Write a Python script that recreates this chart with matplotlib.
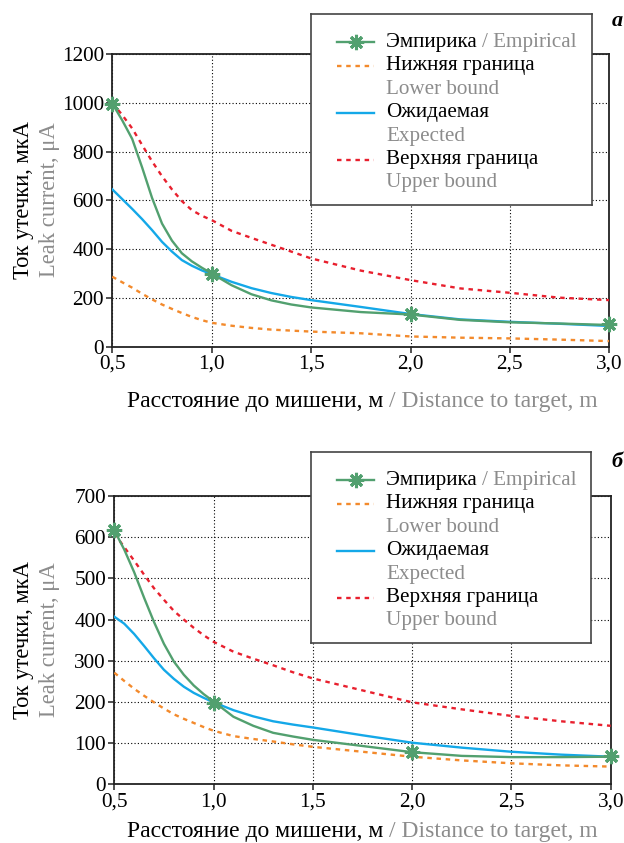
import matplotlib
matplotlib.use("Agg")
import matplotlib.pyplot as plt
from matplotlib.ticker import FuncFormatter, MultipleLocator

plt.rcParams['font.family'] = ['Liberation Serif', 'DejaVu Serif']
FS_TICK = 15.3
FS_LEG = 15.2
FS_XLAB = 17
FS_YLAB = 16.3

# common distance samples (m)
xs = [0.5, 0.55, 0.6, 0.65, 0.7, 0.75, 0.8, 0.85, 0.9, 0.95, 1.0,
      1.1, 1.2, 1.3, 1.4, 1.5, 1.75, 2.0, 2.25, 2.5, 2.75, 3.0]

# ---------------- data: panel а ----------------
a_emp_x = [0.5, 1.0, 2.0, 3.0]
a_emp_y = [995, 300, 134, 92]
a_emp = [997, 928, 852, 735, 610, 505, 435, 383, 350, 324, 300,
         252, 215, 190, 173, 161, 142, 132, 110, 100, 95, 89]
a_exp = [645, 605, 565, 523, 478, 430, 390, 355, 332, 313, 297,
         266, 240, 220, 204, 191, 163, 134, 112, 102, 94, 85]
a_up = [1000, 950, 895, 827, 760, 699, 645, 597, 560, 537, 519,
        475, 446, 418, 390, 362, 312, 273, 239, 221, 201, 191]
a_low = [287, 264, 242, 217, 194, 173, 155, 138, 122, 109, 98,
         86, 77, 70, 66, 62, 55, 42, 37, 34, 29, 23]

# ---------------- data: panel б ----------------
b_emp_x = [0.5, 1.0, 2.0, 3.0]
b_emp_y = [617, 198, 78, 69]
b_emp = [617, 570, 515, 453, 394, 341, 298, 266, 240, 219, 201,
         164, 142, 125, 116, 108, 93, 78, 69, 66, 66, 67]
b_exp = [407, 390, 365, 336, 306, 278, 256, 237, 222, 210, 199,
         180, 165, 153, 145, 138, 119, 101, 89, 79, 72, 67]
b_up = [609, 576, 543, 509, 476, 448, 421, 400, 380, 362, 346,
        322, 305, 289, 272, 257, 228, 199, 182, 166, 153, 142]
b_low = [271, 251, 232, 215, 199, 184, 170, 159, 149, 139, 130,
         117, 110, 104, 97, 91, 79, 67, 58, 51, 46, 43]

x_ticks = [0.5, 1.0, 1.5, 2.0, 2.5, 3.0]

names_ru = ["Эмпирика", "Нижняя граница", "Ожидаемая", "Верхняя граница"]
names_en = ["Empirical", "Lower bound", "Expected", "Upper bound"]

GREEN = "#52a06f"
ORANGE = "#f38a2c"
BLUE = "#14a8e8"
RED = "#e8202e"
GRAY = "#8c8c8c"
DASH = (0, (1.9, 2.0))
LW = 1.7

W, H = 624, 843
fig = plt.figure(figsize=(W / 100, H / 100), dpi=100)


def px_rect(x0, y0, x1, y1):
    return [x0 / W, 1 - y1 / H, (x1 - x0) / W, (y1 - y0) / H]


def comma(v, pos):
    return f"{v:.1f}".replace(".", ",")


def panel(rect, ymax, ystep, emp, emp_x, emp_y, exp, up, low):
    ax = fig.add_axes(px_rect(*rect))
    ax.plot(xs, up, color=RED, lw=LW, ls=DASH, zorder=3)
    ax.plot(xs, low, color=ORANGE, lw=LW, ls=DASH, zorder=3)
    ax.plot(xs, exp, color=BLUE, lw=LW, zorder=4)
    ax.plot(xs, emp, color=GREEN, lw=LW, zorder=5)
    ax.plot(emp_x, emp_y, ls="none", marker=(8, 2, 0), ms=11, mew=2.2,
            color=GREEN, zorder=6, clip_on=False)
    ax.set_xlim(0.5, 3.0)
    ax.set_ylim(0, ymax)
    ax.set_xticks(x_ticks)
    ax.xaxis.set_major_formatter(FuncFormatter(comma))
    ax.yaxis.set_major_locator(MultipleLocator(ystep))
    ax.grid(True, color="black", ls=(0, (1, 2)), lw=0.8, zorder=1)
    ax.tick_params(direction="out", length=4, width=1.1, labelsize=FS_TICK, pad=2,
                   color="#222222")
    for s in ax.spines.values():
        s.set_linewidth(1.3)
        s.set_color("#222222")
    t1 = fig.text(0, 0, "Расстояние до мишени, м ", fontsize=FS_XLAB, color="black", va="center")
    t2 = fig.text(0, 0, "/ Distance to target, m", fontsize=FS_XLAB, color=GRAY, va="center")
    return ax, t1, t2


def legend(rect):
    x0, y0, x1, y1 = rect
    lg = fig.add_axes(px_rect(*rect), zorder=10)
    lg.set_xlim(x0, x1)
    lg.set_ylim(y1, y0)
    lg.set_xticks([])
    lg.set_yticks([])
    lg.set_facecolor("white")
    for s in lg.spines.values():
        s.set_linewidth(1.2)
        s.set_color("#444444")
    hx0, hx1, tx = x0 + 26, x0 + 63, x0 + 75
    rows = [y0 + 28, y0 + 51.5, y0 + 75, y0 + 98.5, y0 + 122, y0 + 145.5, y0 + 169]
    lg.plot([hx0, hx1], [rows[0], rows[0]], color=GREEN, lw=LW)
    lg.plot([(hx0 + hx1) / 2], [rows[0]], marker=(8, 2, 0), ms=11, mew=2.2, color=GREEN)
    lg.plot([hx0, hx1], [rows[1], rows[1]], color=ORANGE, lw=LW, ls=DASH)
    lg.plot([hx0, hx1], [rows[3], rows[3]], color=BLUE, lw=LW)
    lg.plot([hx0, hx1], [rows[5], rows[5]], color=RED, lw=LW, ls=DASH)
    t = lg.text(tx, rows[0], names_ru[0] + " ", fontsize=FS_LEG, va="center", ha="left")
    lg.annotate("/ " + names_en[0], xy=(1, 0), xycoords=t, va="bottom", ha="left",
                fontsize=FS_LEG, color=GRAY)
    for i, (ru, en) in enumerate(zip(names_ru[1:], names_en[1:])):
        lg.text(tx, rows[1 + 2 * i], ru, fontsize=FS_LEG, va="center", ha="left")
        lg.text(tx, rows[2 + 2 * i], en, fontsize=FS_LEG, va="center", ha="left", color=GRAY)
    return lg


axA, ta1, ta2 = panel((112.3, 54, 609.3, 346.7), 1200, 200, a_emp, a_emp_x, a_emp_y,
                      a_exp, a_up, a_low)
axB, tb1, tb2 = panel((114.3, 496, 610.7, 784.3), 700, 100, b_emp, b_emp_x, b_emp_y,
                      b_exp, b_up, b_low)
legend((311, 14, 591.7, 205))
legend((311, 452, 591.3, 643))

for yc in (200, 640):
    fig.text(24 / W, 1 - yc / H, "Ток утечки, мкА", rotation=90, fontsize=FS_YLAB,
             ha="center", va="center", color="black")
    fig.text(50 / W, 1 - yc / H, "Leak current, μA", rotation=90, fontsize=FS_YLAB,
             ha="center", va="center", color=GRAY)

fig.text(617 / W, 1 - 21 / H, "а", fontsize=16, fontweight="bold", fontstyle="italic",
         ha="center", va="center")
fig.text(617 / W, 1 - 462 / H, "б", fontsize=16, fontweight="bold", fontstyle="italic",
         ha="center", va="center")

fig.canvas.draw()
r = fig.canvas.get_renderer()
for (t1, t2, yc, xc) in ((ta1, ta2, 402, 362), (tb1, tb2, 831, 362)):
    w1 = t1.get_window_extent(r).width
    w2 = t2.get_window_extent(r).width
    left = xc - (w1 + w2) / 2
    t1.set_position((left / W, 1 - yc / H))
    t2.set_position(((left + w1) / W, 1 - yc / H))

fig.savefig("out.png", dpi=100)
